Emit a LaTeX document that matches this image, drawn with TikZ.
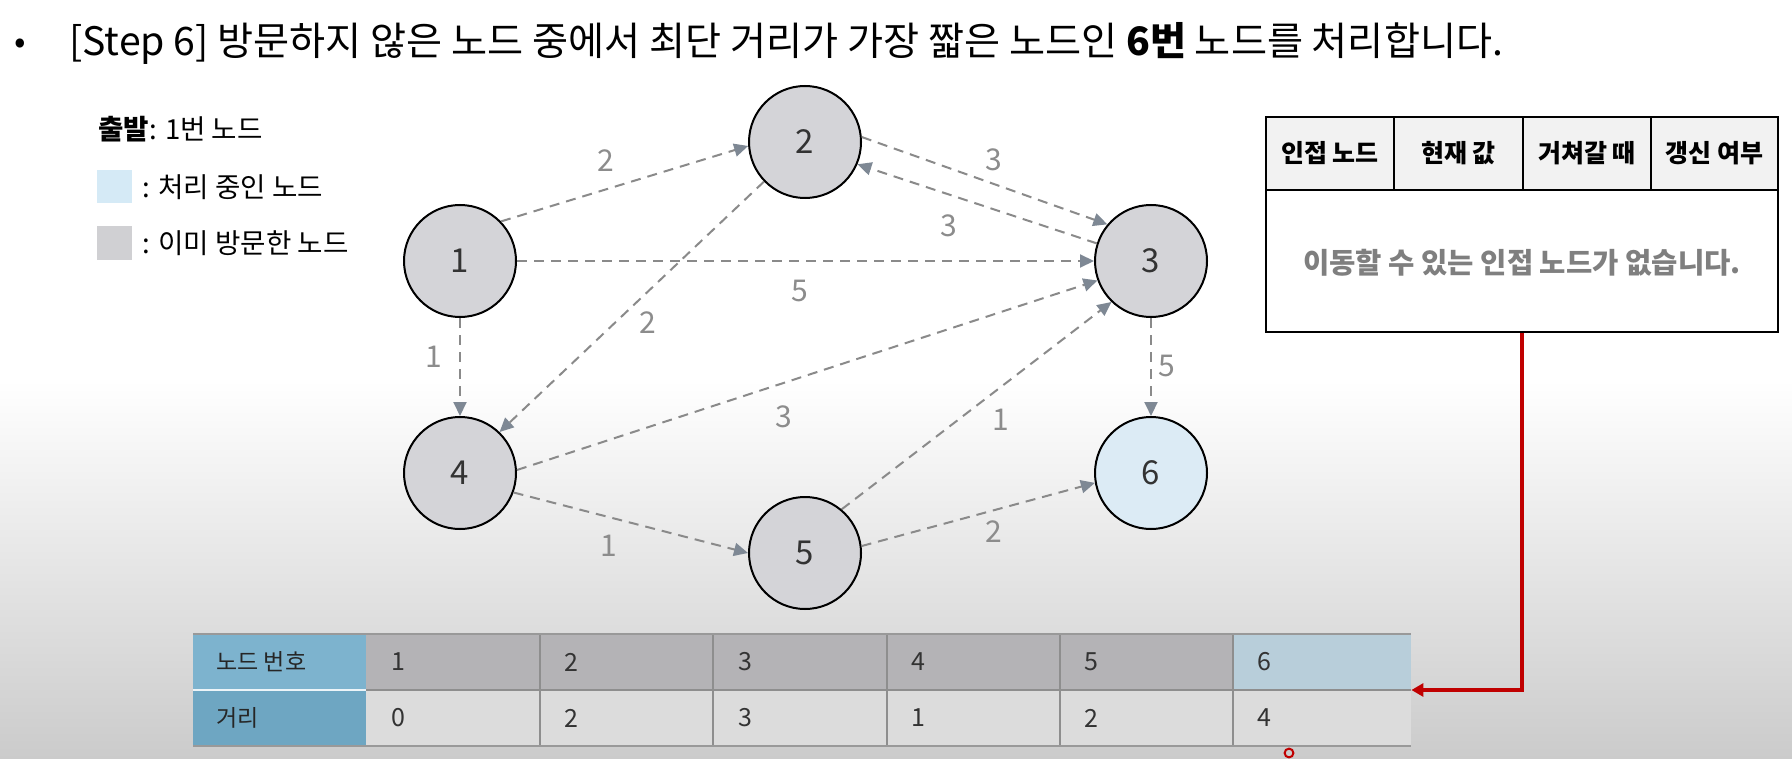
\documentclass[tikz,border=0pt]{standalone}
\usepackage{fontspec}
\setmainfont{Noto Sans CJK KR}
\usetikzlibrary{arrows.meta}
\definecolor{bgbot}{HTML}{CBCBCB}
\definecolor{nodegray}{HTML}{D4D4D8}
\definecolor{nodeblue}{HTML}{DCEBF5}
\definecolor{nodetext}{HTML}{333333}
\definecolor{edgegray}{HTML}{8A8A8A}
\definecolor{tipgray}{HTML}{7E8894}
\definecolor{labelgray}{HTML}{8C8C8C}
\definecolor{legblue}{HTML}{D5EAF6}
\definecolor{leggray}{HTML}{D0D0D3}
\definecolor{hdrfill}{HTML}{F2F2F2}
\definecolor{bodygray}{HTML}{7F7F7F}
\definecolor{colA}{HTML}{7DB3CE}
\definecolor{colB}{HTML}{6EA6C2}
\definecolor{rowone}{HTML}{B4B3B6}
\definecolor{rowonelast}{HTML}{B8CEDA}
\definecolor{rowtwo}{HTML}{DCDCDC}
\definecolor{gridgray}{HTML}{8E8E8E}
\definecolor{darkred}{HTML}{C00000}
\begin{document}
\begin{tikzpicture}[x=0.5pt,y=-0.5pt,
  gnode/.style={circle, draw=black, line width=1pt, fill=nodegray, minimum size=56pt, inner sep=0pt,
    font=\fontsize{16.5}{16.5}\selectfont, text=nodetext},
  gedge/.style={draw=edgegray, line width=1pt, dash pattern=on 5pt off 3.5pt,
    -{Triangle[length=7pt,width=6.5pt,color=tipgray]}},
  elabel/.style={text=labelgray, font=\fontsize{15}{15}\selectfont, inner sep=0pt},
  hdrtext/.style={font=\fontsize{12.5}{13}\bfseries\selectfont, inner sep=0pt},
  celltext/.style={anchor=west, font=\fontsize{12.5}{13}\selectfont, text=nodetext, inner sep=0pt},
  rowlabel/.style={anchor=west, font=\fontsize{11.5}{12}\selectfont, text=black!85, inner sep=0pt},
  legtext/.style={anchor=west, font=\fontsize{13.8}{14}\selectfont, inner sep=0pt}
]
\useasboundingbox (0,0) rectangle (1792,759);
\fill[white] (0,0) rectangle (1792,759);
\shade[top color=white, bottom color=bgbot] (0,380) rectangle (1792,759);

% title
\node[font=\fontsize{17}{17}\selectfont, inner sep=0pt] (bullet) at (20,46) {•};
\node[anchor=base west, font=\fontsize{19.6}{21}\selectfont, inner sep=0pt] (title) at (69,56)
  {[Step 6] 방문하지 않은 노드 중에서 최단 거리가 가장 짧은 노드인 \textbf{6번} 노드를 처리합니다.};

% legend
\node[legtext] (start) at (98,129) {\textbf{출발}: 1번 노드};
\fill[legblue] (97,170) rectangle (132,203);
\node[legtext] (legA) at (142,187) {: 처리 중인 노드};
\fill[leggray] (97,226) rectangle (132,260);
\node[legtext] (legB) at (142,243) {: 이미 방문한 노드};

% graph nodes
\node[gnode] (n1) at (460,261) {1};
\node[gnode] (n2) at (805,142) {2};
\node[gnode] (n3) at (1151,261) {3};
\node[gnode] (n4) at (460,473) {4};
\node[gnode] (n5) at (805,553) {5};
\node[gnode, fill=nodeblue] (n6) at (1151,473) {6};

% edges
\draw[gedge] (n1.44) -- (n2.184);
\draw[gedge] (n1.east) -- (n3.west);
\draw[gedge] (n1.south) -- (n4.north);
\draw[gedge] (n2.5) -- (n3.140);
\draw[gedge] (n3.162) -- (n2.-23);
\draw[gedge] (n2.224) -- (n4.46);
\draw[gedge] (n4.3) -- (n3.200);
\draw[gedge] (n4.-20) -- (n5.180);
\draw[gedge] (n5.50) -- (n3.226);
\draw[gedge] (n5.7) -- (n6.190);
\draw[gedge] (n3.south) -- (n6.north);

% edge labels
\node[elabel] (w12) at (606,161) {2};
\node[elabel] (w13) at (800,291) {5};
\node[elabel] (w14) at (434,357) {1};
\node[elabel] (w23) at (994,160) {3};
\node[elabel] (w32) at (949,226) {3};
\node[elabel] (w24) at (648,323) {2};
\node[elabel] (w43) at (784,417) {3};
\node[elabel] (w45) at (609,546) {1};
\node[elabel] (w53) at (1001,420) {1};
\node[elabel] (w56) at (994,532) {2};
\node[elabel] (w36) at (1167,366) {5};

% right table
\fill[hdrfill] (1266,117) rectangle (1778,190);
\node[draw=black, line width=1pt, minimum width=256pt, minimum height=107.5pt, inner sep=0pt] (adjtab) at (1522,224.5) {};
\draw[line width=1pt] (1266,190) -- (1778,190);
\draw[line width=1pt] (1394,117) -- (1394,190);
\draw[line width=1pt] (1523,117) -- (1523,190);
\draw[line width=1pt] (1651,117) -- (1651,190);
\node[hdrtext] (h1) at (1330,153) {인접 노드};
\node[hdrtext] (h2) at (1458.5,153) {현재 값};
\node[hdrtext] (h3) at (1587,153) {거쳐갈 때};
\node[hdrtext] (h4) at (1714.5,153) {갱신 여부};
\node[font=\fontsize{14.3}{15}\bfseries\selectfont, text=bodygray, inner sep=0pt] (none) at (1522,263) {이동할 수 있는 인접 노드가 없습니다.};

% bottom table
\fill[colA] (193,634) rectangle (366,690);
\fill[colB] (193,690) rectangle (366,746);
\fill[rowone] (366,634) rectangle (1233,690);
\fill[rowonelast] (1233,634) rectangle (1411,690);
\fill[rowtwo] (366,690) rectangle (1411,746);
\draw[white!85!colA, line width=0.8pt] (193,690) -- (366,690);
\draw[gridgray, line width=0.6pt] (366,690) -- (1411,690);
\foreach \xx in {540,713,887,1060,1233} {\draw[gridgray, line width=0.6pt] (\xx,634) -- (\xx,746);}
\node[draw=none, minimum width=609pt, minimum height=56pt, inner sep=0pt] (dtab) at (802,690) {};
\draw[gridgray!90, line width=1pt] (193,634) -- (1411,634);
\draw[gridgray!90, line width=1pt] (193,746) -- (1411,746);
\node[rowlabel] (rl1) at (216,662) {노드 번호};
\node[rowlabel] (rl2) at (216,718) {거리};
\node[celltext] (a1) at (391,662) {1};
\node[celltext] (a2) at (564,662) {2};
\node[celltext] (a3) at (738,662) {3};
\node[celltext] (a4) at (911,662) {4};
\node[celltext] (a5) at (1084,662) {5};
\node[celltext] (a6) at (1257,662) {6};
\node[celltext] (b1) at (391,718) {0};
\node[celltext] (b2) at (564,718) {2};
\node[celltext] (b3) at (738,718) {3};
\node[celltext] (b4) at (911,718) {1};
\node[celltext] (b5) at (1084,718) {2};
\node[celltext] (b6) at (1257,718) {4};

% red connector
\draw[darkred, line width=1.6pt, -{Triangle[length=6pt,width=6.5pt]}] (adjtab.south) |- (dtab.east);
\draw[darkred, line width=1pt] (1289,753) circle (2.2pt);
\end{tikzpicture}
\end{document}
